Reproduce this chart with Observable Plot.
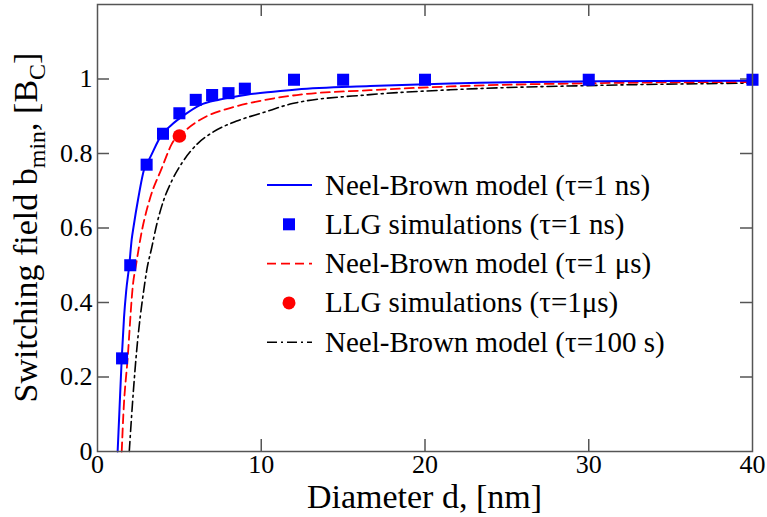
<!DOCTYPE html>
<html><head><meta charset="utf-8">
<script src="https://cdn.jsdelivr.net/npm/d3@7"></script>
<script src="https://cdn.jsdelivr.net/npm/@observablehq/plot@0.6"></script>
<style>body{margin:0;background:#fff}</style>
</head><body><div id="chart"></div>
<script>
// ---- data ----
const xTicks = [0, 10, 20, 30, 40];
const yTicks = [0, 0.2, 0.4, 0.6, 0.8, 1];

// Neel-Brown model, tau = 1 ns (blue solid)
const nb1nsD = [1.23, 1.33, 1.48, 1.62, 1.75, 1.94, 2.09, 2.19, 2.49, 2.90, 3.04, 3.92, 4.5, 5.35, 6.26, 7.48, 9.11, 10.74, 12.17, 16.65, 21.53, 30.7, 40];
const nb1nsB = [0, 0.10, 0.25, 0.36, 0.43, 0.50, 0.57, 0.60, 0.68, 0.765, 0.775, 0.85, 0.876, 0.905, 0.93, 0.945, 0.958, 0.966, 0.972, 0.981, 0.988, 0.994, 0.995];

// LLG simulations, tau = 1 ns (blue squares)
const llgNsD = [1.5, 2, 3, 4, 5, 6, 7, 8, 9, 12, 15, 20, 30, 40];
const llgNsB = [0.25, 0.50, 0.77, 0.853, 0.908, 0.944, 0.957, 0.962, 0.974, 0.998, 0.998, 0.998, 0.998, 0.998];

// Neel-Brown model, tau = 1 us (red dashed)
const nb1usD = [1.48, 1.58, 1.84, 2.17, 2.35, 2.70, 3.21, 3.92, 4.53, 5.45, 6.67, 8.09, 10.13, 12.17, 16.65, 21.53, 30.7, 40];
const nb1usB = [0, 0.10, 0.25, 0.45, 0.50, 0.59, 0.68, 0.76, 0.825, 0.865, 0.90, 0.922, 0.943, 0.957, 0.970, 0.980, 0.989, 0.992];

// LLG simulations, tau = 1 us (red circle)
const llgUsD = [5];
const llgUsB = [0.847];

// Neel-Brown model, tau = 100 s (black dash-dot)
const nb100sD = [1.94, 2.09, 2.35, 2.88, 3.0, 3.31, 3.62, 4.02, 4.53, 5.24, 6.1, 7.07, 8.50, 10.13, 11.9, 16.65, 21.53, 30.7, 40];
const nb100sB = [0, 0.10, 0.25, 0.45, 0.485, 0.547, 0.61, 0.672, 0.726, 0.78, 0.826, 0.858, 0.887, 0.91, 0.934, 0.958, 0.971, 0.983, 0.989];

const legendLabels = [
  "Neel-Brown model (τ=1 ns)",
  "LLG simulations (τ=1 ns)",
  "Neel-Brown model (τ=1 μs)",
  "LLG simulations (τ=1μs)",
  "Neel-Brown model (τ=100 s)"
];

// ---- layout / style ----
const W = 767, H = 517;
const mL = 97, mR = 15, mT = 4, mB = 66;
const pw = W - mL - mR, ph = H - mT - mB;
const FONT = "'Liberation Serif','Times New Roman',serif";
const AX = "#555";
const BLUE = "#0000ff", RED = "#ff0000", BLACK = "#000";
const DASH_RED = "9,5", DASH_BLACK = "10,4,2,4";
const toPts = (xs, ys) => xs.map((x, i) => ({x, y: ys[i]}));

const plot = Plot.plot({
  width: W, height: H,
  marginLeft: mL, marginRight: mR, marginTop: mT, marginBottom: mB,
  style: {fontFamily: FONT, background: "#fff", color: "#000", overflow: "visible"},
  x: {domain: [0, 40]},
  y: {domain: [0, 1.2]},
  marks: [
    Plot.ruleX(xTicks.slice(1, -1), {x: d => d, insetTop: ph - 12, stroke: AX, strokeWidth: 1.5}),
    Plot.ruleX(xTicks.slice(1, -1), {x: d => d, insetBottom: ph - 12, stroke: AX, strokeWidth: 1.5}),
    Plot.ruleY(yTicks.slice(1), {y: d => d, insetRight: pw - 12, stroke: AX, strokeWidth: 1.5}),
    Plot.ruleY(yTicks.slice(1), {y: d => d, insetLeft: pw - 12, stroke: AX, strokeWidth: 1.5}),
    Plot.axisX({ticks: xTicks, tickSize: 0, tickPadding: 3, fontSize: 26, label: null, tickFormat: d => String(d)}),
    Plot.axisY({ticks: yTicks, tickSize: 0, tickPadding: 5, fontSize: 26, label: null, tickFormat: d => String(+d.toFixed(1))}),
    Plot.line(toPts(nb100sD, nb100sB), {x: "x", y: "y", stroke: BLACK, strokeWidth: 1.6, strokeDasharray: DASH_BLACK, curve: "monotone-x"}),
    Plot.line(toPts(nb1usD, nb1usB), {x: "x", y: "y", stroke: RED, strokeWidth: 1.8, strokeDasharray: DASH_RED, curve: "monotone-x"}),
    Plot.line(toPts(nb1nsD, nb1nsB), {x: "x", y: "y", stroke: BLUE, strokeWidth: 2, curve: "monotone-x"}),
    Plot.dot(toPts(llgNsD, llgNsB), {x: "x", y: "y", symbol: "square", r: 6.8, fill: BLUE, stroke: "none"}),
    Plot.dot(toPts(llgUsD, llgUsB), {x: "x", y: "y", symbol: "circle", r: 6.8, fill: RED, stroke: "none"}),
    Plot.frame({stroke: AX, strokeWidth: 1.5})
  ]
});

const svg = d3.select(plot);
// Axis titles
svg.append("text")
  .attr("x", mL + pw / 2).attr("y", 508)
  .attr("text-anchor", "middle")
  .attr("font-family", FONT).attr("font-size", 34).attr("fill", "#000")
  .text("Diameter d, [nm]");

const yt = svg.append("text")
  .attr("transform", `translate(37,${mT + ph / 2}) rotate(-90)`)
  .attr("text-anchor", "middle")
  .attr("font-family", FONT).attr("font-size", 34).attr("fill", "#000");
yt.append("tspan").text("Switching field b");
yt.append("tspan").attr("font-size", 24).attr("dy", 8).text("min");
yt.append("tspan").attr("dy", -8).text(", [B");
yt.append("tspan").attr("font-size", 24).attr("dy", 8).text("C");
yt.append("tspan").attr("dy", -8).text("]");

// Legend
const lg = svg.append("g").attr("font-family", FONT).attr("font-size", 29).attr("text-anchor", "start");
const styles = [
  {type: "line", stroke: BLUE, dash: null, w: 2},
  {type: "square", fill: BLUE},
  {type: "line", stroke: RED, dash: DASH_RED, w: 1.8},
  {type: "circle", fill: RED},
  {type: "line", stroke: BLACK, dash: DASH_BLACK, w: 1.6}
];
legendLabels.forEach((lab, i) => {
  const cy = 185 + i * 39.3;
  const s = styles[i];
  if (s.type === "line") {
    lg.append("line").attr("x1", 267).attr("x2", 312).attr("y1", cy).attr("y2", cy)
      .attr("stroke", s.stroke).attr("stroke-width", s.w).attr("stroke-dasharray", s.dash);
  } else if (s.type === "square") {
    lg.append("rect").attr("x", 289 - 6).attr("y", cy - 6).attr("width", 12).attr("height", 12).attr("fill", s.fill);
  } else {
    lg.append("circle").attr("cx", 289).attr("cy", cy).attr("r", 6.5).attr("fill", s.fill);
  }
  lg.append("text").attr("x", 325).attr("y", cy + 9.5).attr("text-anchor", "start").attr("fill", "#000").text(lab);
});

document.getElementById("chart").appendChild(plot);
</script>
</body></html>
